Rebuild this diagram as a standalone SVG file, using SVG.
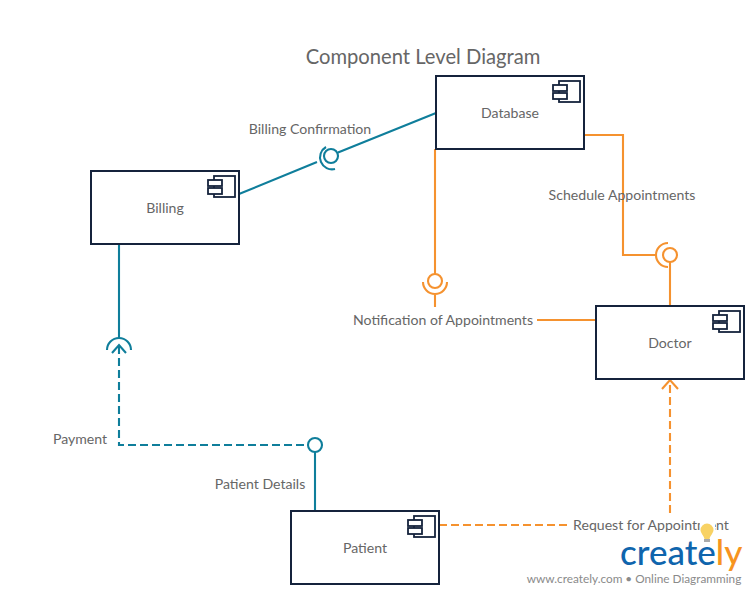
<svg xmlns="http://www.w3.org/2000/svg" width="755" height="595" viewBox="0 0 755 595">
<style>
text{font-family:Lato,"Open Sans","Liberation Sans",sans-serif;font-size:14.1px;fill:#666;text-anchor:middle}
.box{fill:#fff;stroke:#15233c;stroke-width:2}
.ic{fill:#fff;stroke:#15233c;stroke-width:1.8}
.t,.o{fill:none;stroke-width:2.1}
.t{stroke:#0f7e9b}
.o{stroke:#f5922f}
.d{stroke-dasharray:8 4}
</style>
<defs>
<g id="icon">
<rect class="ic" x="123" y="5" width="21" height="21"/>
<rect class="ic" x="117" y="9" width="14" height="6"/>
<rect class="ic" x="117" y="17" width="14" height="6"/>
</g>
</defs>
<rect width="755" height="595" fill="#fff"/>
<text x="423" y="64" style="font-size:20.2px">Component Level Diagram</text>
<g id="connectors">
<path class="t" d="M239 194L317 162M338 152.500L436 113"/>
<path class="t" d="M326 147A12 12 0 0 0 335 169"/>
<circle class="t" cx="331" cy="156" r="7"/>
<path class="t" d="M119 244V339"/>
<path class="t" d="M107 350A12 12 0 0 1 131 350"/>
<path class="t d" d="M119 346V445H308"/>
<path class="t" d="M112 353L119 345L126 353"/>
<circle class="t" cx="315" cy="445" r="7"/>
<path class="t" d="M315 452V511"/>
<path class="o" d="M435 149V274"/>
<circle class="o" cx="435" cy="281" r="7"/>
<path class="o" d="M423 282A12 12 0 0 0 447 282M435 293V307"/>
<path class="o" d="M537 320H596"/>
<path class="o" d="M584 135H623V255H657"/>
<path class="o" d="M668 243A12 12 0 0 0 668 267"/>
<circle class="o" cx="670" cy="255" r="7"/>
<path class="o" d="M670 262V306"/>
<path class="o d" d="M439 525H569M670 513V381"/>
<path class="o" d="M662 389L670 380L678 389"/>
</g>
<g id="database"><rect class="box" x="436" y="76" width="148" height="73"/><use href="#icon" x="436" y="76"/><text x="510" y="118">Database</text></g>
<g id="billing"><rect class="box" x="91" y="171" width="148" height="73"/><use href="#icon" x="91" y="171"/><text x="165" y="213">Billing</text></g>
<g id="doctor"><rect class="box" x="596" y="306" width="148" height="73"/><use href="#icon" x="596" y="306"/><text x="670" y="348">Doctor</text></g>
<g id="patient"><rect class="box" x="291" y="511" width="148" height="73"/><use href="#icon" x="291" y="511"/><text x="365" y="553">Patient</text></g>
<g id="labels">
<text x="310" y="134">Billing Confirmation</text>
<text x="622" y="200">Schedule Appointments</text>
<text x="443" y="325">Notification of Appointments</text>
<text x="80" y="444">Payment</text>
<text x="260" y="489">Patient Details</text>
<text x="651" y="530">Request for Appointment</text>
</g>
<g id="logo">
<rect x="700" y="522" width="15" height="23" fill="#fff"/>
<path d="M700.500 530a6.500 6.500 0 1 1 13 0c0 3-3 5-4 9h-5c-1-4-4-6-4-9z" fill="#f8d264"/>
<rect x="704" y="539" width="6" height="3" fill="#aaa"/>
<text x="620" y="565" style="font-size:35px;font-weight:500;fill:#0f65ad;text-anchor:start">create<tspan style="fill:#f7941e">ly</tspan></text>
<text x="634" y="583" style="font-size:11.8px;fill:#8a8a8a">www.creately.com • Online Diagramming</text>
</g>
</svg>
